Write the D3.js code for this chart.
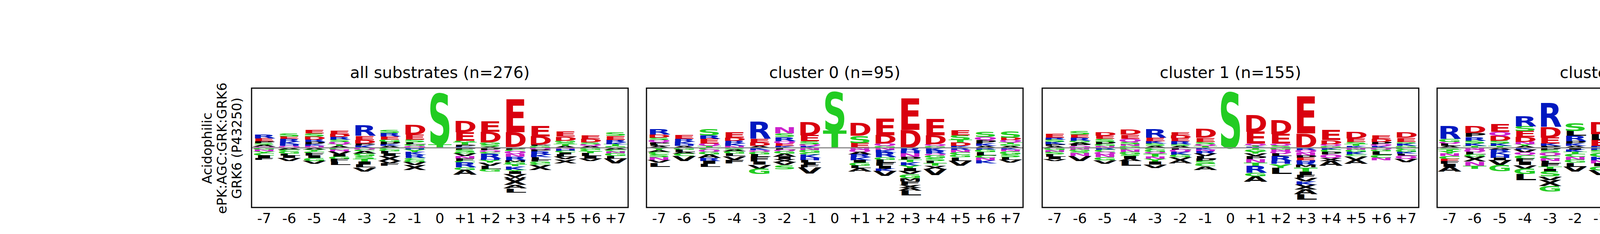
<!DOCTYPE html>
<html>
<head>
<meta charset="utf-8">
<script src="https://d3js.org/d3.v7.min.js"></script>
<style>body{margin:0;background:#fff}</style>
</head>
<body>
<svg id="chart" width="5163" height="600"></svg>
<script>
// positions on x axis
const positions = ["-7","-6","-5","-4","-3","-2","-1","0","+1","+2","+3","+4","+5","+6","+7"];
const titles = ["all substrates (n=276)", "cluster 0 (n=95)", "cluster 1 (n=155)", "cluster 2 (n=26)"];
const yLabel = ["Acidophilic", "ePK:AGC:GRK:GRK6", "GRK6 (P43250)"];

// each position: "letters above (bottom->top) | letters below (baseline->down)", heights in hundredths
const allSubstrates = [
  "Q2 A3 S3 P3 E5 R7 | G3 N3 Y3 C4 I4 F3",
  "Q3 H3 K4 R5 E4 S5 | A3 C3 G4 L3 I4 V5",
  "N3 K3 P4 R4 D5 S5 E6 | A3 Y3 C3 F4 I4 G5 V5",
  "A3 T3 Q4 S4 R4 D5 E6 | C3 N3 V5 I4 G4 F4 L6",
  "K4 P3 D6 E7 R18 | Q3 C3 A4 G4 S5 T4 I5 L5 V7",
  "A3 K3 P4 G4 E5 R6 S5 | C3 G3 L4 I4 X8 V4 F4",
  "Q3 G3 L3 S5 E8 D16 | H3 Y4 K5 R5 C3 G4 V5 X8",
  "T6 S84 | ",
  "K2 P3 T4 G3 E14 D19 | P3 S4 G3 V4 N4 F4 C3 R8 G4 A8",
  "A2 S4 G3 D18 E18 | P4 Q3 C3 R8 H3 Y4 V5 L6 G4",
  "G1 D25 E55 | P3 C3 Q4 N5 R6 M3 G4 T3 K6 Y3 I4 V5 W3 X10 A6 L7",
  "G3 P2 D14 E18 | Q3 P3 R6 K4 L4 F3 G3 C3 X8",
  "A3 T3 S3 G3 D7 E8 | N2 H3 C3 I3 L4 V4 X7",
  "A3 Q3 S3 D6 E6 | G3 C3 T3 L5 I4 V4",
  "G3 T3 K3 R4 E7 S6 | A3 C3 N3 G5 L4 V8"
];
const cluster0 = [
  "A3 L3 P3 Q4 S4 D5 R9 | Y4 A3 C4 S5 N5 V4 L7",
  "A3 H3 K4 R5 E7 | G3 L4 A3 C4 V8",
  "T3 Q4 E8 R6 S10 | C3 Q4 G4 A6 R5 I5 L5",
  "N3 K4 R5 D5 E9 | S3 A3 G4 L4 V6 F6",
  "A3 D6 E6 R29 | K4 Q3 G4 L4 F8 I5 V7 G9",
  "K3 E4 Q4 R7 S6 N10 | L3 Q3 G4 A5 I4 X5 V5 S7",
  "K3 Q3 S5 E10 D22 | N4 G4 C3 K6 H4 L4 I4 F4 V10",
  "T29 S65 | ",
  "E8 S12 D21 | N3 Q4 A4 R5 K5 I4 G5 L4 A6",
  "G3 Q4 D14 E28 | N4 K4 R8 G4 L5 F5 I5 K4 V8",
  "D30 E53 | R5 H4 N6 P5 T4 K6 Y4 I5 V5 G7 M5 F6 X5 A5 L8",
  "G3 Q3 D15 E27 | K5 R5 Q3 G4 S5 L4 T4 X6 V10",
  "K3 D6 T4 S8 E8 | R4 N4 C4 G4 L6 V8",
  "A3 K4 P6 Q5 S8 | R3 G4 L6 C4 N4 K5",
  "A3 G3 T3 Q4 D4 S10 | K3 N3 G5 S5 L4 V5"
];
const cluster1 = [
  "A3 P3 K4 S4 R3 E7 | G4 N3 S4 L4 I4 V3",
  "Q3 P3 A3 G3 R5 E5 S6 | N3 G3 S3 N5 V8",
  "N3 G3 P4 S5 E5 D6 | R3 C4 Q4 N5 G5 V6",
  "G3 N3 S4 Q5 E7 D8 | C3 N4 G4 S3 I4 A4 L8",
  "A3 S4 K4 E6 R14 | C3 G4 Q3 T5 N4 Y4 I5 V6",
  "A3 S3 R5 E5 D5 E5 | L3 Q4 K5 G4 V4 A6",
  "T3 Q3 S4 E7 D15 | K3 N3 R4 V4 L4 P4 S5 C4 A6",
  "S93 | ",
  "K2 T2 Q3 E20 D28 | T3 G3 Y4 V4 P5 N6 T5 R12 G6 A9",
  "S4 Q3 E16 D24 | G3 N3 Q4 L4 R8 H5 Y7 L10",
  "D24 E62 | R4 Q4 N5 P4 E4 H3 R5 M4 T7 I5 F5 V6 K6 X8 A8 L9",
  "G3 Q3 D7 E17 | K3 C4 P4 Q6 X5 A8",
  "K3 T3 S4 E6 D11 | N3 G4 K4 C3 V6 A7",
  "K3 Q3 P4 D5 E6 | Q3 G3 L6 C5 N4",
  "G3 K4 S3 E7 D9 | C3 G4 K3 L3 Q5 V6"
];
const cluster2 = [
  "A3 L4 Q3 G5 R21 | S3 T3 Y4 N4 C5 E4 F4 I5 A8",
  "T3 K4 S5 R6 P7 D12 | N3 Q4 L4 G4 X8 N7 T5",
  "T3 K4 S5 D8 Q7 E13 | A3 R4 K5 H5 I4 V8 G10",
  "A3 Y3 N4 D8 E10 S8 R17 | K3 V5 Q4 C6 F5 I6 V6 G9 L10",
  "P3 K4 E10 D18 R40 | P4 S4 Q5 C5 N4 L4 F6 T4 I4 S8 V6 X10 G9",
  "A3 K4 P4 R9 L8 S13 | I3 K4 T3 C5 N5 G5 L7 V8",
  "R3 E10 L10 D20 | R4 S4 C7 K6 N5 I5 G7 V8",
  "S94 | ",
  "K3 G3 F4 Q4 L10 E25 | N4 V5 Q5 R6 I5 K7 G5 S5 A8",
  "S2 E8 K6 D8 A7 | T4 G5 N4 C5 Q5 L8",
  "G2 T3 Q4 N8 D12 S12 | K3 G4 X8 F6 K6 V6 I5",
  "G3 T3 D24 E32 | Q5 V6 N7 P5 R5 T4 I5 F6 K7 A8 L8",
  "S3 C4 K4 L4 Y8 E14 | R4 Q4 X8 N5 R5 G5 K6",
  "G3 Q4 P5 F6 N8 D16 | L3 V5 G5 X8 S6 T5 I5",
  "A2 L3 Q5 H5 E9 K26 | G3 K4 N5 S5 D7 V6 L5 X12"
];
const panels = [allSubstrates, cluster0, cluster1, cluster2];

const colorOf = l => "DE".includes(l) ? "#d9000f" : "KRH".includes(l) ? "#0018c0"
  : "GSTYC".includes(l) ? "#22cc22" : "NQ".includes(l) ? "#cc22cc" : "#000000";

function parse(s) {
  const [up, dn] = s.split("|");
  const toList = t => t.trim().split(/\s+/).filter(d => d).map(d => ({l: d[0], h: +d.slice(1) / 100}));
  return {up: toList(up), dn: toList(dn || "")};
}

const svg = d3.select("#chart");
const boxLefts = [644, 1655, 2668, 3679];
const boxW = 964, boxTop = 226, boxBot = 532;
const y = d3.scaleLinear().domain([-1, 1]).range([boxBot, boxTop]);
const FONT = "DejaVu Sans";

// glyph bounding boxes measured once per letter
const measure = svg.append("g");
const glyphBox = {};
function box(l) {
  if (!glyphBox[l]) {
    const t = measure.append("text").attr("font-family", FONT).attr("font-weight", "bold")
      .attr("font-size", 100).text(l);
    const b = t.node().getBBox();
    // tight vertical: use cap height approx
    glyphBox[l] = {x: b.x, w: b.width, top: -73, bot: 0};
    t.remove();
  }
  return glyphBox[l];
}

function drawLetter(g, l, x0, w, yTop, yBot) {
  const b = box(l);
  const sx = w / b.w, sy = (yBot - yTop) / (b.bot - b.top);
  if (yBot - yTop < 0.3) return;
  g.append("text").attr("font-family", FONT).attr("font-weight", "bold").attr("font-size", 100)
    .attr("fill", colorOf(l))
    .attr("transform", `translate(${x0 - b.x * sx},${yBot}) scale(${sx},${sy})`)
    .text(l);
}

panels.forEach((data, pi) => {
  const left = boxLefts[pi];
  const x = d3.scaleBand().domain(positions).range([left, left + boxW]).paddingInner(0.05).paddingOuter(0.025);
  const g = svg.append("g");

  data.forEach((s, i) => {
    const col = parse(s);
    const x0 = x(positions[i]), w = x.bandwidth();
    let acc = 0;
    col.up.forEach(d => { drawLetter(g, d.l, x0, w, y(acc + d.h), y(acc)); acc += d.h; });
    acc = 0;
    col.dn.forEach(d => { drawLetter(g, d.l, x0, w, y(acc), y(acc - d.h)); acc -= d.h; });
  });

  // baseline
  g.append("line").attr("x1", left).attr("x2", left + boxW).attr("y1", y(0)).attr("y2", y(0))
    .attr("stroke", "#888").attr("stroke-width", 3);
  g.append("rect").attr("x", left).attr("y", boxTop).attr("width", boxW).attr("height", boxBot - boxTop)
    .attr("fill", "none").attr("stroke", "#000").attr("stroke-width", 3);

  const axis = d3.axisBottom(x).tickSize(0).tickPadding(14);
  const ax = svg.append("g").attr("transform", `translate(0,${boxBot})`).call(axis);
  ax.select(".domain").remove();
  ax.selectAll("text").attr("font-family", FONT).attr("font-size", 36).attr("fill", "#000");

  svg.append("text").attr("x", left + boxW / 2).attr("y", 200).attr("text-anchor", "middle")
    .attr("font-family", FONT).attr("font-size", 41).text(titles[pi]);
});

// y label (three lines, rotated)
const yl = svg.append("text").attr("transform", "translate(0,380) rotate(-90)")
  .attr("text-anchor", "middle").attr("font-family", FONT).attr("font-size", 34);
yLabel.forEach((t, i) => yl.append("tspan").attr("x", 0).attr("y", 542 + i * 38).text(t));
measure.remove();
</script>
</body>
</html>
